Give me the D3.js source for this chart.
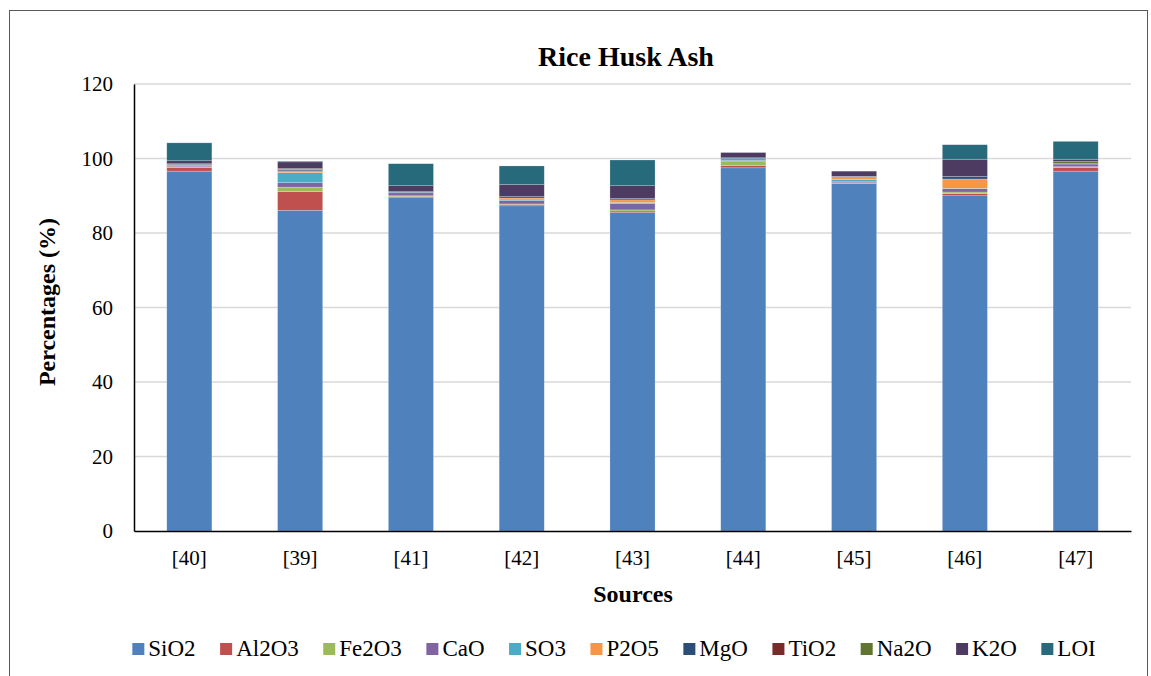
<!DOCTYPE html>
<html><head><meta charset="utf-8">
<script src="https://cdn.jsdelivr.net/npm/d3@7"></script>
<style>body{margin:0;background:#fff}svg{display:block}svg text{font-family:"Liberation Serif","Times New Roman",serif !important}</style>
</head><body><svg id="c" width="1151" height="676"></svg>
<script>
const sources = ["[40]","[39]","[41]","[42]","[43]","[44]","[45]","[46]","[47]"];
const oxides = ["SiO2","Al2O3","Fe2O3","CaO","SO3","P2O5","MgO","TiO2","Na2O","K2O","LOI"];
const colors = ["#4f81bd","#c0504d","#9bbb59","#8064a2","#4bacc6","#f79646","#2c4d75","#772c2a","#5f7530","#4d3b62","#276a7c"];
const SiO2  = [96.6, 86.1, 89.5, 87.3, 85.5, 97.5, 93.3, 90.0, 96.6];
const Al2O3 = [1.0, 5.0, 0.3, 0.4, 0.4, 0.6, 0.1, 0.6, 1.0];
const Fe2O3 = [0.2, 1.2, 0.2, 0.1, 0.3, 1.2, 0.1, 0.4, 0.2];
const CaO   = [0.4, 1.2, 0.8, 0.9, 1.7, 0.2, 0.4, 0.9, 0.7];
const SO3   = [0.0, 2.7, 0.1, 0.4, 0.3, 0.5, 0.5, 0.1, 0.0];
const P2O5  = [0.1, 0.5, 0.0, 0.3, 0.7, 0.0, 0.7, 2.5, 0.0];
const MgO   = [0.2, 0.3, 0.3, 0.4, 0.4, 0.2, 0.1, 0.7, 0.2];
const TiO2  = [0.0, 0.1, 0.0, 0.0, 0.0, 0.0, 0.0, 0.0, 0.0];
const Na2O  = [0.1, 0.2, 0.0, 0.0, 0.0, 0.0, 0.0, 0.0, 0.5];
const K2O   = [0.8, 1.8, 1.5, 3.2, 3.4, 1.4, 1.4, 4.6, 0.6];
const LOI   = [4.8, 0.2, 5.9, 5.0, 6.9, 0.0, 0.0, 3.9, 4.8];
const yTicks = [0,20,40,60,80,100,120];

const series = [SiO2,Al2O3,Fe2O3,CaO,SO3,P2O5,MgO,TiO2,Na2O,K2O,LOI];
const rows = sources.map((s,i)=>{const r={source:s}; oxides.forEach((o,j)=>r[o]=series[j][i]); return r;});

const svg = d3.select("#c");
const m = {l:134, r:1131, t:84, b:531};
svg.append("rect").attr("x",9.5).attr("y",10.5).attr("width",1138).attr("height",670).attr("fill","#fff").attr("stroke","#595959").attr("stroke-width",1);

const x = d3.scaleBand().domain(sources).range([m.l,m.r]).paddingInner(0.593).paddingOuter(0.296);
const y = d3.scaleLinear().domain([0,120]).range([m.b,m.t]);
const color = d3.scaleOrdinal().domain(oxides).range(colors);

svg.append("g").selectAll("line").data(yTicks.filter(d=>d>0)).join("line")
  .attr("x1",m.l).attr("x2",m.r).attr("y1",d=>y(d)).attr("y2",d=>y(d))
  .attr("stroke","#d9d9d9").attr("stroke-width",1.5);

const stack = d3.stack().keys(oxides)(rows);
svg.append("g").selectAll("g").data(stack).join("g").attr("fill",d=>color(d.key))
  .selectAll("rect").data(d=>d).join("rect")
  .attr("x",d=>x(d.data.source)).attr("width",x.bandwidth())
  .attr("y",d=>y(d[1])).attr("height",d=>Math.max(0,y(d[0])-y(d[1])))
  .attr("stroke","rgba(255,255,255,0.35)").attr("stroke-width",0.6);

const ya = svg.append("g").attr("transform",`translate(${m.l},0)`)
  .call(d3.axisLeft(y).tickValues(yTicks).tickSize(0).tickPadding(21));
ya.select(".domain").attr("stroke","#000").attr("stroke-width",1.5);
ya.selectAll("text").style("font-size","21px").attr("fill","#000");

const xa = svg.append("g").attr("transform",`translate(0,${m.b})`)
  .call(d3.axisBottom(x).tickSize(0).tickPadding(19));
xa.select(".domain").attr("stroke","#000").attr("stroke-width",1.5);
xa.selectAll("text").style("font-size","21px").attr("fill","#000");

svg.append("text").attr("x",626).attr("y",66).attr("text-anchor","middle")
  .style("font-size","28px").attr("font-weight","bold").text("Rice Husk Ash");
svg.append("text").attr("transform","translate(55,302) rotate(-90)").attr("text-anchor","middle")
  .style("font-size","24px").attr("font-weight","bold").text("Percentages (%)");
svg.append("text").attr("x",633).attr("y",602).attr("text-anchor","middle")
  .style("font-size","24px").attr("font-weight","bold").text("Sources");

const lg = svg.append("g");
const items = lg.selectAll("g").data(oxides).join("g");
items.append("rect").attr("width",12).attr("height",12).attr("y",-13).attr("fill",d=>color(d));
items.append("text").attr("x",16).attr("y",0).style("font-size","23px").text(d=>d);
let xpos = 0; const gap = 24.5;
items.each(function(){const w=this.getBBox().width; d3.select(this).attr("data-x",xpos); xpos+=w+gap;});
const total = xpos-gap, start = 614 - total/2;
items.attr("transform",function(){return `translate(${start+ +this.getAttribute("data-x")},656)`;});
</script></body></html>
